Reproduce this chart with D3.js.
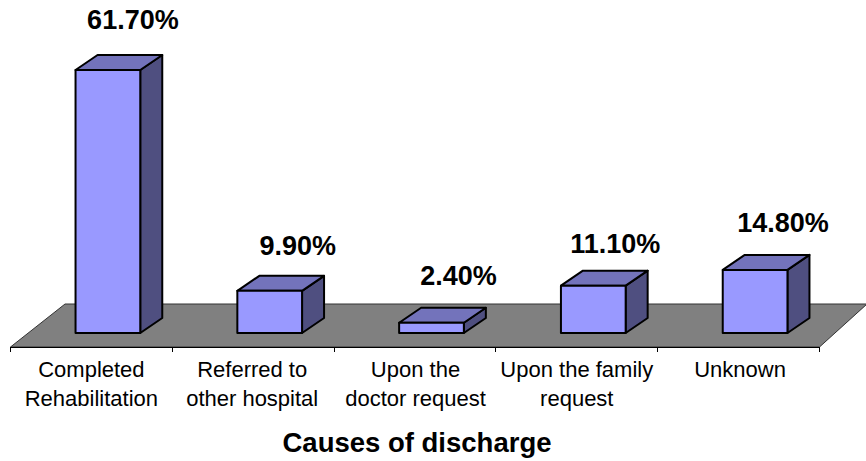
<!DOCTYPE html>
<html>
<head>
<meta charset="utf-8">
<script src="https://cdn.jsdelivr.net/npm/d3@7"></script>
<style>
html, body { margin: 0; padding: 0; background: #fff; }
svg { display: block; font-family: "Liberation Sans", Arial, sans-serif; }
</style>
</head>
<body>
<svg width="866" height="461"></svg>
<script>
const categories = [
    ["Completed", "Rehabilitation"],
    ["Referred to", "other hospital"],
    ["Upon the", "doctor request"],
    ["Upon the family", "request"],
    ["Unknown"]
];
const values = [61.7, 9.9, 2.4, 11.1, 14.8];
const valueLabels = ["61.70%", "9.90%", "2.40%", "11.10%", "14.80%"];
const axisTitle = "Causes of discharge";

const svg = d3.select("svg");
const g = svg.append("g");

// floor of the 3d box
const floorY = 347, depthX = 22, depthY = 15, bottomY = 333;

const x = d3.scaleBand()
    .domain(d3.range(values.length))
    .range([10.5, 819.5])
    .paddingInner(0)
    .paddingOuter(0);
const barW = x.bandwidth() * 0.4;
const barOffset = (x.bandwidth() - barW) / 2 + 16.5;

const y = d3.scaleLinear()
    .domain([0, 61.7])
    .range([bottomY, 70]);

g.append("polygon")
    .attr("points", [[10.5, floorY], [819.5, floorY], [867, 304], [65, 304]].join(" "))
    .attr("fill", "#808080")
    .attr("stroke", "#333")
    .attr("stroke-width", 1);

// axis line and the ticks between categories
g.append("line")
    .attr("x1", 10.5).attr("x2", 819.5)
    .attr("y1", floorY + 0.5).attr("y2", floorY + 0.5)
    .attr("stroke", "#000");
g.selectAll(".tick-line")
    .data(d3.range(values.length + 1))
    .join("line")
    .attr("class", "tick-line")
    .attr("x1", i => Math.floor(10.5 + i * x.step()) + 0.5)
    .attr("x2", i => Math.floor(10.5 + i * x.step()) + 0.5)
    .attr("y1", floorY)
    .attr("y2", floorY + 5)
    .attr("stroke", "#000");

const bars = g.selectAll(".bar")
    .data(values)
    .join("g")
    .attr("class", "bar")
    .attr("stroke", "#000")
    .attr("stroke-width", 2)
    .attr("stroke-linejoin", "round");

bars.append("polygon") // side
    .attr("fill", "#4f4f80")
    .attr("points", (d, i) => {
        const x1 = x(i) + barOffset + barW;
        return [[x1, y(d)], [x1 + depthX, y(d) - depthY], [x1 + depthX, bottomY - depthY], [x1, bottomY]].join(" ");
    });
bars.append("polygon") // top
    .attr("fill", "#7373bb")
    .attr("points", (d, i) => {
        const x0 = x(i) + barOffset;
        return [[x0, y(d)], [x0 + depthX, y(d) - depthY], [x0 + barW + depthX, y(d) - depthY], [x0 + barW, y(d)]].join(" ");
    });
bars.append("rect") // front
    .attr("fill", "#9999ff")
    .attr("x", (d, i) => x(i) + barOffset)
    .attr("y", d => y(d))
    .attr("width", barW)
    .attr("height", d => bottomY - y(d));

// labels were nudged by hand in the original, so a small shift per bar
const labelDx = [25, 28, 27, 22, 28];
const labelDy = [-41.5, -36, -37.5, -33, -38];
g.selectAll(".value-label")
    .data(values)
    .join("text")
    .attr("class", "value-label")
    .attr("x", (d, i) => x(i) + barOffset + barW / 2 + labelDx[i])
    .attr("y", (d, i) => y(d) + labelDy[i])
    .attr("text-anchor", "middle")
    .attr("font-size", 27)
    .attr("font-weight", "bold")
    .attr("fill", "#000")
    .text((d, i) => valueLabels[i]);

const catDx = [0, -1, 0.5, 0, 1.5];
const catText = g.selectAll(".cat-label")
    .data(categories)
    .join("text")
    .attr("class", "cat-label")
    .attr("text-anchor", "middle")
    .attr("font-size", 22)
    .attr("fill", "#000");
catText.selectAll("tspan")
    .data((d, i) => d.map(t => ({t, i})))
    .join("tspan")
    .attr("x", d => x(d.i) + x.bandwidth() / 2 + catDx[d.i])
    .attr("y", (d, j) => 377 + j * 29)
    .text(d => d.t);

g.append("text")
    .attr("x", 417)
    .attr("y", 452)
    .attr("text-anchor", "middle")
    .attr("font-size", 27.5)
    .attr("font-weight", "bold")
    .text(axisTitle);
</script>
</body>
</html>
